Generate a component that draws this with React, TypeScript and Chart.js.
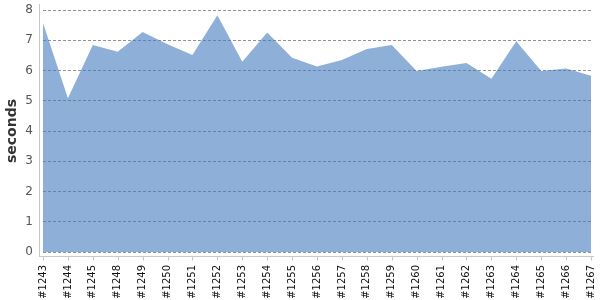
import React, { useEffect, useRef } from "react";
import { Chart, registerables } from "chart.js";

Chart.register(...registerables);

const categories = [
  "#1243", "#1244", "#1245", "#1248", "#1249", "#1250", "#1251", "#1252",
  "#1253", "#1254", "#1255", "#1256", "#1257", "#1258", "#1259", "#1260",
  "#1261", "#1262", "#1263", "#1264", "#1265", "#1266", "#1267",
];

const seconds = [
  7.57, 5.08, 6.84, 6.62, 7.27, 6.87, 6.51, 7.83,
  6.29, 7.26, 6.42, 6.13, 6.35, 6.71, 6.84, 5.98,
  6.12, 6.25, 5.73, 6.97, 5.98, 6.07, 5.83,
];

const yMin = 0;
const yMax = 8;
const yStep = 1;

const axisPlugin = {
  id: "offsetAxes",
  afterDraw(chart: any) {
    const { ctx, chartArea } = chart;
    const xScale = chart.scales.x;
    ctx.save();
    ctx.strokeStyle = "#c8c8c8";
    ctx.lineWidth = 1;
    ctx.beginPath();
    const ax = Math.round(chartArea.left - 4) + 0.5;
    ctx.moveTo(ax, chartArea.top - 6);
    ctx.lineTo(ax, chartArea.bottom + 5);
    const ay = Math.round(chartArea.bottom + 4) + 0.5;
    ctx.moveTo(ax, ay);
    ctx.lineTo(chartArea.right + 3, ay);
    for (let i = 0; i < categories.length; i++) {
      const px = Math.round(xScale.getPixelForValue(i)) + 0.5;
      ctx.moveTo(px, ay);
      ctx.lineTo(px, ay + 4);
    }
    ctx.stroke();
    ctx.restore();
  },
};

export default function App() {
  const ref = useRef<HTMLCanvasElement | null>(null);

  useEffect(() => {
    document.body.style.margin = "0";
    if (!ref.current) return;
    const chart = new Chart(ref.current, {
      type: "line",
      data: {
        labels: categories,
        datasets: [
          {
            label: "seconds",
            data: seconds,
            fill: "origin",
            backgroundColor: "rgba(67,123,190,0.6)",
            borderWidth: 0,
            borderColor: "rgba(0,0,0,0)",
            pointRadius: 0,
            tension: 0,
          },
        ],
      },
      options: {
        responsive: false,
        animation: false,
        events: [],
        layout: { padding: { left: 0, right: 9, top: 10, bottom: 0 } },
        plugins: {
          legend: { display: false },
          tooltip: { enabled: false },
        },
        scales: {
          x: {
            type: "category",
            offset: false,
            grid: { display: false, drawTicks: false },
            border: { display: false },
            ticks: {
              autoSkip: false,
              minRotation: 90,
              maxRotation: 90,
              padding: 13,
              color: "#111",
              font: { family: "DejaVu Sans", size: 10 },
            },
            afterFit(scale: any) {
              scale.height = 48;
              scale.paddingLeft = 0;
              scale.paddingRight = 0;
            },
          },
          y: {
            min: yMin,
            max: yMax,
            grid: { color: "rgba(110,110,110,0.75)", drawTicks: false, lineWidth: 1 },
            border: { display: false, dash: [3, 2] },
            ticks: {
              stepSize: yStep,
              padding: 10,
              color: "#555",
              font: { family: "DejaVu Sans", size: 12 },
            },
            title: {
              display: true,
              text: "seconds",
              color: "#333",
              padding: { top: 4, bottom: 0 },
              font: { family: "DejaVu Sans", size: 14, weight: "bold" },
            },
            afterFit(scale: any) {
              scale.width = 43;
              scale.paddingTop = 0;
              scale.paddingBottom = 0;
            },
          },
        },
      },
      plugins: [axisPlugin],
    });
    return () => chart.destroy();
  }, []);

  return <canvas ref={ref} width={600} height={300} style={{ display: "block" }} />;
}
